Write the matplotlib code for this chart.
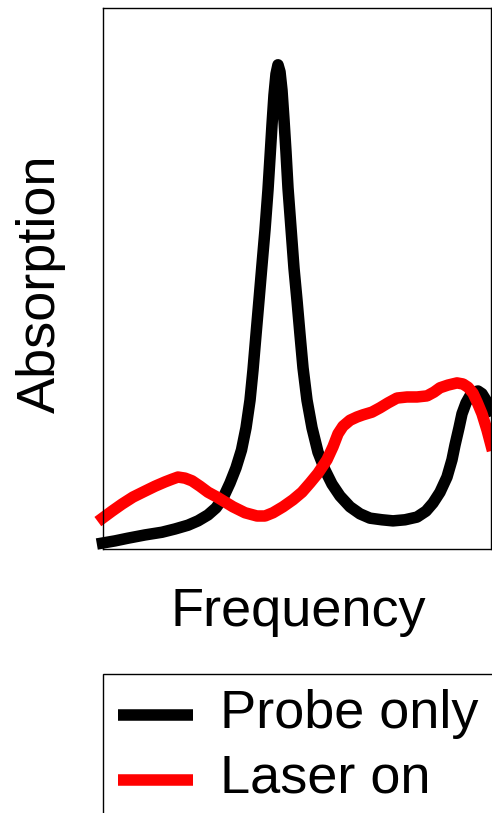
import matplotlib
matplotlib.use("Agg")
import matplotlib.pyplot as plt

plt.rcParams['font.family'] = ['Liberation Sans', 'DejaVu Sans']

# curves (frequency in arbitrary units 0..10, absorption 0..1)
probe_freq = [0.000, 0.322, 0.656, 1.094, 1.532, 1.866, 2.201, 2.458, 2.716, 2.922,
              3.102, 3.282, 3.436, 3.578, 3.694, 3.797, 3.874, 3.951, 4.028, 4.105,
              4.183, 4.260, 4.311, 4.363, 4.414, 4.466, 4.517, 4.569, 4.620, 4.672,
              4.723, 4.775, 4.852, 4.929, 5.006, 5.084, 5.161, 5.264, 5.393, 5.547,
              5.727, 5.907, 6.113, 6.371, 6.628, 6.885, 7.194, 7.477, 7.786, 8.095,
              8.327, 8.507, 8.687, 8.867, 8.996, 9.073, 9.176, 9.254, 9.357, 9.459,
              9.562, 9.665, 9.768, 9.897, 10.000]
probe_abs = [0.011, 0.015, 0.020, 0.026, 0.031, 0.037, 0.044, 0.052, 0.063, 0.076,
             0.094, 0.122, 0.150, 0.183, 0.224, 0.275, 0.331, 0.396, 0.460, 0.525,
             0.590, 0.664, 0.723, 0.784, 0.839, 0.878, 0.895, 0.882, 0.848, 0.793,
             0.734, 0.667, 0.593, 0.519, 0.460, 0.396, 0.335, 0.275, 0.224, 0.179,
             0.146, 0.120, 0.098, 0.078, 0.065, 0.057, 0.054, 0.052, 0.054, 0.059,
             0.070, 0.085, 0.105, 0.133, 0.165, 0.192, 0.224, 0.250, 0.270, 0.283,
             0.290, 0.292, 0.287, 0.272, 0.257]

laser_freq = [0.000, 0.245, 0.502, 0.785, 1.094, 1.351, 1.609, 1.789, 1.943, 2.124,
              2.304, 2.510, 2.716, 2.947, 3.153, 3.359, 3.668, 3.977, 4.183, 4.389,
              4.646, 4.903, 5.135, 5.341, 5.547, 5.779, 5.933, 6.062, 6.190, 6.371,
              6.551, 6.705, 6.937, 7.143, 7.349, 7.580, 7.838, 8.095, 8.353, 8.533,
              8.687, 8.893, 9.125, 9.279, 9.408, 9.537, 9.640, 9.768, 9.897, 10.000]
laser_abs = [0.057, 0.070, 0.083, 0.096, 0.107, 0.116, 0.124, 0.129, 0.133, 0.131,
             0.126, 0.116, 0.105, 0.096, 0.087, 0.078, 0.067, 0.061, 0.061, 0.067,
             0.078, 0.091, 0.105, 0.122, 0.140, 0.165, 0.189, 0.213, 0.227, 0.238,
             0.244, 0.248, 0.253, 0.261, 0.270, 0.279, 0.281, 0.281, 0.283, 0.290,
             0.298, 0.303, 0.307, 0.305, 0.299, 0.288, 0.272, 0.250, 0.220, 0.192]

labels = ['Probe only', 'Laser on']

W, H = 492, 813
fig = plt.figure(figsize=(W / 100, H / 100), dpi=100)
ax = fig.add_axes([102.5 / W, 1 - 549 / H, 388.5 / W, 541 / H])

ax.plot(probe_freq, probe_abs, color='black', lw=8.3, label=labels[0],
        clip_on=False, solid_capstyle='projecting', solid_joinstyle='round')
ax.plot(laser_freq, laser_abs, color='red', lw=8.3, label=labels[1],
        clip_on=False, solid_capstyle='projecting', solid_joinstyle='round')

ax.set_xlim(0, 10)
ax.set_ylim(0, 1)
ax.set_xticks([])
ax.set_yticks([])
for s in ax.spines.values():
    s.set_linewidth(1.0)

ax.set_xlabel('Frequency', fontsize=39)
ax.xaxis.set_label_coords(0.5045, -0.1423)
ax.xaxis.label.set_verticalalignment('baseline')
ax.set_ylabel('Absorption', fontsize=39)
ax.yaxis.set_label_coords(-0.094, 0.491)

leg = ax.legend(loc='upper left', bbox_to_anchor=(102.5 / W, 1 - 674 / H),
                bbox_transform=fig.transFigure, borderaxespad=0, fontsize=39,
                handlelength=1.38, handletextpad=0.5, labelspacing=0.26,
                borderpad=0.285, fancybox=False, framealpha=1, edgecolor='black')
leg.get_frame().set_linewidth(1.0)
# handles sit a little below the text centre in the original
for ln in leg.get_lines():
    ln.set_solid_capstyle('butt')
    ln.set_ydata([y - 4.3 for y in ln.get_ydata()])

fig.savefig('out.png', dpi=100)
